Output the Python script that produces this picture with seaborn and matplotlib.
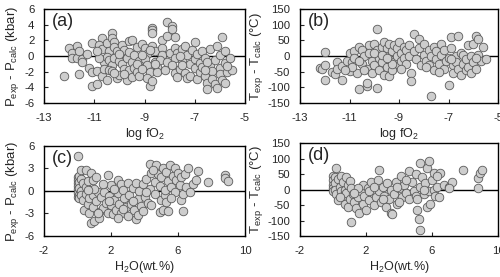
import matplotlib
matplotlib.use("Agg")
import matplotlib.pyplot as plt
import seaborn as sns

# ------------------------------
# Data (approximate)
# ------------------------------

# (a) log fO2 vs P_exp - P_calc (kbar)
a_fo2 = [-12.2, -12.0, -11.9, -11.9, -11.7, -11.7, -11.6, -11.5, -11.5, -11.6,
         -11.2, -11.1, -11.1, -10.9, -11.1, -10.9, -10.7, -10.8, -10.7, -10.6,
         -10.7, -10.5, -10.6, -10.5, -10.4, -10.5, -10.4, -10.3, -10.4, -10.3,
         -10.3, -10.2, -10.2, -10.1, -10.2, -10.3, -10.1, -10.0, -10.2, -9.9,
         -9.8, -10.0, -9.9, -9.8, -9.7, -9.6, -9.5, -9.6, -9.5, -9.6,
         -9.7, -9.5, -9.4, -9.4, -9.3, -9.2, -9.3, -9.2, -9.1, -9.0,
         -8.9, -9.0, -8.9, -8.8, -8.9, -8.8, -8.7, -8.7, -8.6, -8.6,
         -8.5, -8.5, -8.7, -8.7, -8.7, -8.3, -8.1, -8.3, -8.3, -8.4,
         -8.2, -8.1, -8.0, -8.1, -7.9, -7.9, -7.8, -7.8, -7.7, -7.8,
         -7.9, -7.8, -7.7, -7.6, -7.5, -7.5, -7.4, -7.3, -7.4, -7.3,
         -7.2, -7.2, -7.1, -7.0, -7.0, -7.0, -6.9, -6.9, -6.8, -6.8,
         -6.7, -6.7, -6.6, -6.6, -6.5, -6.5, -6.4, -6.4, -6.3, -6.3,
         -6.2, -6.2, -6.1, -6.1, -6.0, -6.0, -6.0, -5.9, -5.9, -5.8,
         -5.8, -5.8, -5.7, -5.6, -5.5, -5.7, -6.5, -6.6, -7.6, -7.5,
         -9.8, -10.0, -9.3, -9.1, -8.8, -8.6, -9.1, -10.8, -10.9, -11.3]
a_dp = [-2.6, 1.0, 0.4, -0.2, 1.3, -0.3, 0.6, -0.4, -0.7, -2.3,
        -1.5, -2.0, -3.8, -3.6, 1.7, -1.9, 2.3, 1.4, 0.9, -0.7,
        -2.6, -3.0, -1.6, 1.7, 0.6, -0.1, -0.5, -1.1, -1.8, 2.9,
        2.3, 1.8, 1.2, 0.6, -0.2, -1.9, -2.8, -2.4, -2.2, 1.4,
        0.8, -0.6, -1.0, -1.6, -0.3, 1.9, 2.1, 0.5, -0.8, -1.8,
        -3.1, -2.7, -1.5, 0.2, 1.2, -0.6, -2.0, -2.5, 1.6, 1.0,
        0.3, -0.4, -1.2, -2.0, -2.8, -3.8, -3.2, 1.3, 0.6, -0.7,
        -1.4, -2.0, 3.6, 3.3, 3.0, 2.1, 2.6, 1.0, 0.2, -0.5,
        -1.8, -0.8, 0.4, 4.4, 3.9, 3.4, 2.4, 1.0, 0.4, -0.3,
        -1.2, -2.1, -2.7, -1.6, 0.9, -0.5, -2.2, -2.8, 1.3, 0.2,
        -1.0, -2.5, 0.8, 1.8, -0.4, -1.5, -2.9, 0.3, -0.9, -2.0,
        0.7, -1.4, -2.6, -0.2, -3.4, -4.2, 0.9, -1.1, -1.9, -2.9,
        -0.5, -3.6, -4.1, 1.3, -1.5, -2.3, 0.2, 2.4, -3.0, -3.5,
        0.7, -0.9, -2.0, -0.3, -1.8, -1.3, -0.8, -1.8, 0.0, -1.1,
        -2.3, 0.3, -1.0, -1.6, 0.8, -1.0, 0.1, -0.3, 0.6, 0.3]

# (b) log fO2 vs T_exp - T_calc (C)
b_fo2 = [-12.2, -12.1, -12.0, -12.0, -12.0, -11.7, -11.6, -11.5, -11.5, -11.3,
         -11.3, -11.1, -11.0, -11.0, -10.9, -10.8, -10.8, -10.7, -10.6, -10.6,
         -10.5, -10.5, -10.4, -10.3, -10.3, -10.3, -10.2, -10.2, -10.1, -10.1,
         -10.0, -10.0, -9.9, -9.9, -9.9, -9.8, -9.8, -9.7, -9.7, -9.6,
         -9.6, -9.6, -9.5, -9.5, -9.4, -9.4, -9.4, -9.3, -9.3, -9.2,
         -9.2, -9.1, -9.1, -9.0, -9.0, -8.9, -8.9, -8.8, -8.8, -8.7,
         -8.7, -8.6, -8.6, -8.5, -8.5, -8.4, -8.4, -8.3, -8.2, -8.2,
         -8.1, -8.0, -8.0, -7.9, -7.8, -7.8, -7.7, -7.7, -7.6, -7.6,
         -7.5, -7.5, -7.4, -7.3, -7.3, -7.2, -7.2, -7.1, -7.0, -7.0,
         -6.9, -6.9, -6.8, -6.8, -6.7, -6.7, -6.6, -6.6, -6.5, -6.5,
         -6.4, -6.4, -6.3, -6.3, -6.2, -6.2, -6.1, -6.1, -6.0, -6.0,
         -5.9, -5.9, -5.8, -5.8, -5.7, -5.6, -5.5, -5.9, -10.9, -11.2,
         -10.6, -10.0, -9.7, -9.3, -8.9, -9.5, -10.4, -7.9, -7.4, -6.9]
b_dt = [-38, -42, -30, 12, -75, -50, -58, -20, -40, -33,
        -75, -17, 10, -48, -20, 15, -5, -55, -105, 30,
        20, -25, 0, -95, -85, -40, 35, 10, -15, -55,
        40, -30, 85, -103, 20, -5, -45, 30, -20, 45,
        5, -60, -35, 25, 40, -10, -65, 15, -45, 35,
        -20, 0, 25, 45, -30, 10, -15, 30, -5, 20,
        -25, 35, 0, -55, -80, 70, 15, -10, 55, 25,
        -30, 5, 38, -15, 20, -30, -128, 0, 30, -45,
        -10, 15, -25, 40, 5, -40, 20, -15, -92, -5,
        60, 25, -30, -55, 0, -20, 65, -40, 10, -60,
        -25, 5, -45, -10, 35, -35, 0, -55, 40, -20,
        65, -40, 55, 5, -15, 30, -10, -5, -35, -45,
        -15, 10, 5, -25, -40, -5, -45, -35, -50, -10]

# (c) H2O (wt.%) vs P_exp - P_calc (kbar)
c_h2o = [0.0, 0.0, 0.0, 0.0, 0.0, 0.0, 0.0, 0.0, 0.1, 0.1,
         0.1, 0.1, 0.1, 0.2, 0.2, 0.2, 0.2, 0.3, 0.3, 0.4,
         0.5, 0.5, 0.5, 0.6, 0.6, 0.7, 0.7, 0.8, 0.8, 0.9,
         0.9, 0.9, 1.0, 1.1, 1.1, 1.2, 1.3, 1.3, 1.4, 1.5,
         1.6, 1.7, 1.8, 1.8, 1.9, 2.0, 2.0, 2.1, 2.2, 2.3,
         2.4, 2.4, 2.5, 2.6, 2.6, 2.7, 2.8, 2.9, 3.0, 3.0,
         3.1, 3.2, 3.3, 3.4, 3.5, 3.5, 3.6, 3.6, 3.7, 3.8,
         3.9, 4.0, 4.1, 4.2, 4.3, 4.3, 4.4, 4.4, 4.6, 4.6,
         4.7, 4.8, 4.9, 4.9, 5.0, 5.0, 5.1, 5.1, 5.2, 5.2,
         5.3, 5.4, 5.4, 5.5, 5.6, 5.7, 5.8, 5.8, 5.9, 6.0,
         6.1, 6.2, 6.2, 6.3, 6.3, 6.4, 6.5, 6.6, 6.7, 6.9,
         7.1, 7.2, 7.8, 8.8, 8.8, 9.0, 1.0, 1.5, 2.2, 3.3,
         0.6, 1.2, 2.7, 4.5, 5.3, 5.6, 4.1, 3.9, 2.4, 1.9]
c_dp = [4.7, 1.8, 1.4, 1.0, 0.6, 0.2, -0.3, -0.8, 2.0, 1.2,
        0.4, -0.5, -1.0, 2.8, 1.6, 0.0, -0.6, 1.0, -1.2, -2.6,
        2.8, 0.5, -0.4, 1.3, -1.8, -0.9, -2.9, 2.4, -4.2, 1.5,
        -0.5, -2.1, -4.0, 1.9, -1.4, -0.2, -2.8, -3.6, -0.8, -2.3,
        -0.1, -1.6, 2.1, -2.9, -0.7, 0.8, -1.9, -3.1, -1.2, -2.5,
        1.4, -0.3, -1.8, 0.9, -2.9, 0.1, -1.0, -2.2, 1.0, -3.3,
        -0.5, -1.7, 0.4, -2.6, -3.8, 1.1, -1.1, -3.2, 0.0, -2.0,
        0.9, -0.8, 1.6, -1.6, 3.6, 0.3, 2.4, -1.9, 1.2, -0.4,
        3.4, 2.2, -2.8, 0.6, -1.2, 1.8, -2.6, 3.0, -0.6, 0.1,
        2.5, -2.7, 1.3, 3.4, 0.5, 2.0, 3.0, -0.2, 1.4, 2.4,
        0.8, -1.2, 1.9, -0.4, -2.7, 2.2, 0.5, 3.1, -0.1, 0.9,
        1.5, 2.7, 1.2, 2.1, 1.7, 1.3, 0.3, 0.9, 0.2, -1.3,
        0.1, -3.0, -2.4, 2.8, -1.5, -0.9, -0.2, -2.7, -3.6, -1.3]

# (d) H2O (wt.%) vs T_exp - T_calc (C)
d_h2o = [0.0, 0.0, 0.0, 0.0, 0.0, 0.1, 0.1, 0.1, 0.2, 0.2,
         0.3, 0.3, 0.4, 0.5, 0.5, 0.6, 0.6, 0.7, 0.7, 0.8,
         0.8, 0.9, 0.9, 1.0, 1.0, 1.1, 1.1, 1.2, 1.3, 1.4,
         1.5, 1.6, 1.7, 1.8, 1.8, 1.9, 2.0, 2.1, 2.2, 2.3,
         2.4, 2.5, 2.6, 2.7, 2.8, 2.8, 2.9, 3.0, 3.1, 3.2,
         3.3, 3.4, 3.5, 3.5, 3.6, 3.7, 3.8, 3.9, 4.0, 4.1,
         4.2, 4.3, 4.4, 4.6, 4.6, 4.8, 4.9, 5.0, 5.0, 5.1,
         5.1, 5.2, 5.3, 5.3, 5.3, 5.4, 5.5, 5.6, 5.7, 5.7,
         5.8, 5.8, 5.9, 6.0, 6.1, 6.1, 6.2, 6.3, 6.4, 6.5,
         6.7, 7.0, 7.2, 7.0, 7.9, 8.8, 8.9, 9.0, 8.8, 1.5,
         0.4, 2.2, 3.0, 4.4, 4.0, 2.5, 1.3, 5.5, 6.3, 3.9]
d_dt = [45, 30, 15, 5, -5, 40, 20, 0, 70, -15,
        35, -35, 10, 45, -5, 25, -20, 0, -45, 40,
        -10, 15, -55, 28, -30, -105, 5, -15, -40, -60,
        -25, -75, -5, 15, -45, -20, -65, 5, -35, 25,
        -10, -50, -25, 30, 62, -5, -40, 10, -20, -55,
        20, -30, -75, 0, -80, -15, 25, -45, 5, 45,
        -25, 15, -10, 60, -30, 25, -5, 50, -20, -65,
        -30, -95, -130, 85, 10, 40, -15, 20, 70, -55,
        92, -5, -45, 30, 55, 0, -20, 10, -25, 55,
        15, 10, 25, 5, 62, 37, 55, 65, 5, 5,
        -25, -5, -30, 30, -40, 10, -10, 0, 45, 10]

# ------------------------------
# Plot
# ------------------------------
sns.set_style("ticks")
plt.rcParams['font.family'] = ['Liberation Sans', 'DejaVu Sans']
plt.rcParams['mathtext.default'] = 'regular'
plt.rcParams['axes.unicode_minus'] = False

fig = plt.figure(figsize=(5.0, 2.77), dpi=100)
ax_a = fig.add_axes([0.088, 0.628, 0.402, 0.339])
ax_b = fig.add_axes([0.600, 0.628, 0.396, 0.339])
ax_c = fig.add_axes([0.088, 0.148, 0.402, 0.325])
ax_d = fig.add_axes([0.600, 0.148, 0.396, 0.335])

panels = [
    (ax_a, a_fo2, a_dp, "(a)", (-13, -5), [-13, -11, -9, -7, -5], (-6, 6), range(-6, 7, 2),
     "log fO$_2$", "P$_{exp}$ - P$_{calc}$ (kbar)"),
    (ax_b, b_fo2, b_dt, "(b)", (-13, -5), [-13, -11, -9, -7, -5], (-150, 150), range(-150, 151, 50),
     "log fO$_2$", "T$_{exp}$ - T$_{calc}$ (°C)"),
    (ax_c, c_h2o, c_dp, "(c)", (-2, 10), [-2, 2, 6, 10], (-6, 6), range(-6, 7, 3),
     "H$_2$O(wt.%)", "P$_{exp}$ - P$_{calc}$ (kbar)"),
    (ax_d, d_h2o, d_dt, "(d)", (-2, 10), [-2, 2, 6, 10], (-150, 150), range(-150, 151, 50),
     "H$_2$O(wt.%)", "T$_{exp}$ - T$_{calc}$ (°C)"),
]

for ax, xs, ys, tag, xlim, xticks, ylim, yticks, xlabel, ylabel in panels:
    ax.axhline(0, color="black", lw=1.0, zorder=1)
    sns.scatterplot(x=xs, y=ys, ax=ax, s=38, color="#cdcdcd",
                    edgecolor="#5a5a5a", linewidth=0.6, zorder=3)
    ax.set_xlim(*xlim)
    ax.set_ylim(*ylim)
    ax.set_xticks(xticks)
    ax.set_yticks(list(yticks))
    ax.tick_params(direction="in", length=3, width=0.8, labelsize=8.2, pad=7)
    for sp in ax.spines.values():
        sp.set_visible(True)
        sp.set_color("black")
        sp.set_linewidth(1.0)
    ax.set_xlabel(xlabel, fontsize=9, labelpad=2)
    ax.set_ylabel(ylabel, fontsize=9.5, labelpad=2)
    ax.text(0.04, 0.96, tag, transform=ax.transAxes, fontsize=13,
            ha="left", va="top")

fig.savefig("out.png", dpi=100)
